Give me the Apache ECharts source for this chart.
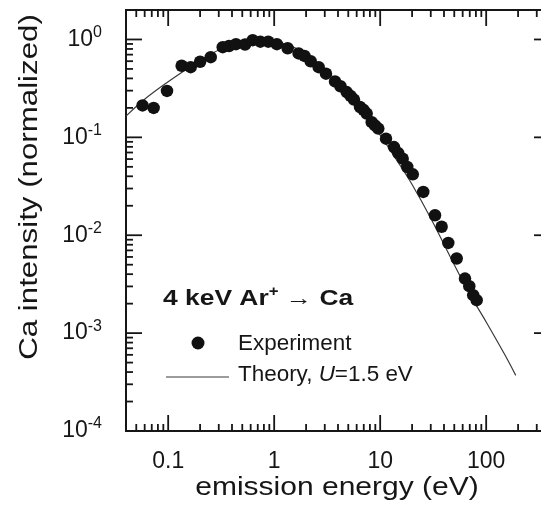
<!DOCTYPE html>
<html>
<head>
<meta charset="utf-8">
<title>Ca emission energy distribution</title>
<script src="https://cdn.jsdelivr.net/npm/echarts@6/dist/echarts.min.js"></script>
<style>
  html, body { margin: 0; padding: 0; background: #ffffff; }
  #chart { width: 541px; height: 513px; }
</style>
</head>
<body>
<div id="chart"></div>
<script>
// Measured Ca emission energy spectrum (normalized intensity)
const expEnergy = [0.0573, 0.0729, 0.0975, 0.134, 0.163, 0.200, 0.252, 0.327, 0.375, 0.436,
  0.531, 0.627, 0.740, 0.879, 1.06, 1.34, 1.70, 1.93, 2.21, 2.63,
  3.08, 3.75, 4.22, 4.83, 5.25, 5.66, 6.45, 6.96, 7.46, 8.32,
  8.93, 9.60, 11.35, 13.5, 14.8, 16.3, 18.0, 20.3, 25.5, 32.9,
  38.0, 43.9, 52.7, 63.1, 69.3, 75.5, 81.3];
const expIntensity = [0.212, 0.200, 0.298, 0.539, 0.521, 0.592, 0.660, 0.834, 0.858, 0.895,
  0.889, 0.984, 0.950, 0.950, 0.895, 0.813, 0.720, 0.679, 0.599, 0.521,
  0.447, 0.373, 0.333, 0.290, 0.265, 0.243, 0.204, 0.191, 0.175, 0.143,
  0.1325, 0.123, 0.097, 0.0796, 0.0691, 0.0606, 0.0498, 0.0419, 0.0277, 0.0160,
  0.0122, 0.00834, 0.00578, 0.00361, 0.00302, 0.00244, 0.00217];

// Theory curve, U = 1.5 eV
const theoryEnergy = [0.04, 0.06, 0.1, 0.15, 0.2, 0.3, 0.5, 0.75, 1, 1.5,
  2, 3, 5, 7, 10, 15, 20, 30, 50, 70, 100, 150, 190];
const theoryIntensity = [0.165, 0.245, 0.37, 0.50, 0.61, 0.78, 0.95, 1.0, 0.97, 0.84,
  0.71, 0.50, 0.28, 0.173, 0.105, 0.054, 0.033, 0.0149, 0.0050, 0.0025, 0.0013, 0.0006, 0.00037];

// Axis ranges and tick labels
const xRange = [0.04, 400];
const yRange = [1e-4, 2];
const xMajorTicks = [0.1, 1, 10, 100];
const xTickLabels = ['0.1', '1', '10', '100'];
const yMajorTicks = [1e-4, 1e-3, 1e-2, 1e-1, 1];
const yTickExponents = ['-4', '-3', '-2', '-1', '0'];
const minorSteps = [2, 3, 4, 5, 6, 7, 8, 9];

const FONT = '"Liberation Sans", Arial, sans-serif';
const INK = '#161616';
const MAJOR_LEN = 16, MINOR_LEN = 7;

// Minor tick positions (2..9 within each decade) inside an axis range
function minorOf(r) {
  const out = [];
  const lo = Math.floor(Math.log10(r[0])), hi = Math.ceil(Math.log10(r[1]));
  for (let e = lo; e < hi; e++) {
    minorSteps.forEach(m => {
      const v = parseFloat((m * Math.pow(10, e)).toPrecision(6));
      if (v > r[0] * 1.0001 && v < r[1] * 0.9999) out.push(v);
    });
  }
  return out;
}
const xMinorTicks = minorOf(xRange);
const yMinorTicks = minorOf(yRange);

// Tick marks on all four sides: [value along axis, value on the other axis, length, side]
// side: 0 bottom (points up), 1 top (points down), 2 left (points right), 3 right (points left)
const tickData = [];
xMajorTicks.forEach(v => { tickData.push([v, yRange[0], MAJOR_LEN, 0]); tickData.push([v, yRange[1], MAJOR_LEN, 1]); });
xMinorTicks.forEach(v => { tickData.push([v, yRange[0], MINOR_LEN, 0]); tickData.push([v, yRange[1], MINOR_LEN, 1]); });
yMajorTicks.forEach(v => { tickData.push([xRange[0], v, MAJOR_LEN, 2]); tickData.push([xRange[1], v, MAJOR_LEN, 3]); });
yMinorTicks.forEach(v => { tickData.push([xRange[0], v, MINOR_LEN, 2]); tickData.push([xRange[1], v, MINOR_LEN, 3]); });

function matchTick(v, ticks) {
  const lv = Math.log10(v);
  for (let i = 0; i < ticks.length; i++) {
    if (Math.abs(lv - Math.log10(ticks[i])) < 1e-6) return i;
  }
  return -1;
}

const chart = echarts.init(document.getElementById('chart'), null, { renderer: 'canvas' });

const option = {
  backgroundColor: '#ffffff',
  animation: false,
  grid: {
    left: 126, top: 10, width: 424, height: 421,
    outerBoundsMode: 'none', containLabel: false,
    show: true, borderColor: INK, borderWidth: 2, backgroundColor: 'transparent'
  },
  xAxis: {
    type: 'log', logBase: 10, min: xRange[0], max: xRange[1],
    axisLine: { show: false }, axisTick: { show: false }, splitLine: { show: false },
    minorTick: { show: false },
    axisLabel: {
      margin: 19, fontSize: 23, fontFamily: FONT, color: INK,
      showMinLabel: true, showMaxLabel: true,
      formatter: v => { const i = matchTick(v, xMajorTicks); return i < 0 ? '' : xTickLabels[i]; }
    }
  },
  yAxis: {
    type: 'log', logBase: 10, min: yRange[0], max: yRange[1],
    axisLine: { show: false }, axisTick: { show: false }, splitLine: { show: false },
    minorTick: { show: false },
    axisLabel: {
      margin: 24, fontFamily: FONT, color: INK,
      formatter: v => { const i = matchTick(v, yMajorTicks); return i < 0 ? '' : '{b|10}{s|' + yTickExponents[i] + '}'; },
      rich: {
        b: { fontSize: 23, fontFamily: FONT, color: INK, lineHeight: 30, verticalAlign: 'middle' },
        s: { fontSize: 16, fontFamily: FONT, color: INK, lineHeight: 14, verticalAlign: 'top' }
      }
    }
  },
  series: [
    {
      type: 'custom',
      name: 'ticks',
      clip: false,
      silent: true,
      z: 5,
      data: tickData,
      encode: { x: 0, y: 1 },
      renderItem: (params, api) => {
        const p = api.coord([api.value(0), api.value(1)]);
        const len = api.value(2), side = api.value(3);
        let x2 = p[0], y2 = p[1];
        if (side === 0) y2 -= len;
        else if (side === 1) y2 += len;
        else if (side === 2) x2 += len;
        else x2 -= len;
        return { type: 'line', shape: { x1: p[0], y1: p[1], x2: x2, y2: y2 },
                 style: { stroke: INK, lineWidth: 1.8 } };
      }
    },
    {
      type: 'line',
      name: 'Theory',
      data: theoryEnergy.map((e, i) => [e, theoryIntensity[i]]),
      showSymbol: false,
      smooth: 0.35,
      lineStyle: { color: '#3a3a3a', width: 1.2 },
      z: 2
    },
    {
      type: 'scatter',
      name: 'Experiment',
      data: expEnergy.map((e, i) => [e, expIntensity[i]]),
      symbol: 'circle',
      symbolSize: 12.5,
      itemStyle: { color: '#111111', opacity: 1 },
      z: 3
    }
  ],
  graphic: [
    { // y axis title
      type: 'text', x: 30, y: 187, rotation: Math.PI / 2, scaleX: 1.25,
      style: { text: 'Ca intensity (normalized)', font: '25px ' + FONT, fill: INK,
               align: 'center', verticalAlign: 'middle' }
    },
    { // x axis title
      type: 'text', x: 337, y: 488, scaleX: 1.2,
      style: { text: 'emission energy (eV)', font: '25px ' + FONT, fill: INK,
               align: 'center', verticalAlign: 'middle' }
    },
    { // system label
      type: 'text', x: 163, y: 299, scaleX: 1.2,
      style: {
        text: '{b|4 keV Ar}{s|+}{a| → }{b|Ca}',
        align: 'left', verticalAlign: 'middle',
        rich: {
          b: { font: 'bold 22px ' + FONT, fill: INK, lineHeight: 28, verticalAlign: 'middle' },
          s: { font: 'bold 14px ' + FONT, fill: INK, lineHeight: 12, verticalAlign: 'top' },
          a: { font: '22px ' + FONT, fill: INK, lineHeight: 28, verticalAlign: 'middle' }
        }
      }
    },
    { type: 'circle', shape: { cx: 198, cy: 343, r: 6.5 }, style: { fill: '#111111' } },
    {
      type: 'text', x: 238, y: 344, scaleX: 1.02,
      style: { text: 'Experiment', font: '22px ' + FONT, fill: INK, align: 'left', verticalAlign: 'middle' }
    },
    { type: 'line', shape: { x1: 166, y1: 377, x2: 229, y2: 377 }, style: { stroke: '#3a3a3a', lineWidth: 1.2 } },
    {
      type: 'text', x: 238, y: 374.5, scaleX: 1.02,
      style: {
        text: '{r|Theory, }{i|U}{r|=1.5 eV}',
        align: 'left', verticalAlign: 'middle',
        rich: {
          r: { font: '22px ' + FONT, fill: INK },
          i: { font: 'italic 22px ' + FONT, fill: INK }
        }
      }
    }
  ]
};

chart.setOption(option);
</script>
</body>
</html>
